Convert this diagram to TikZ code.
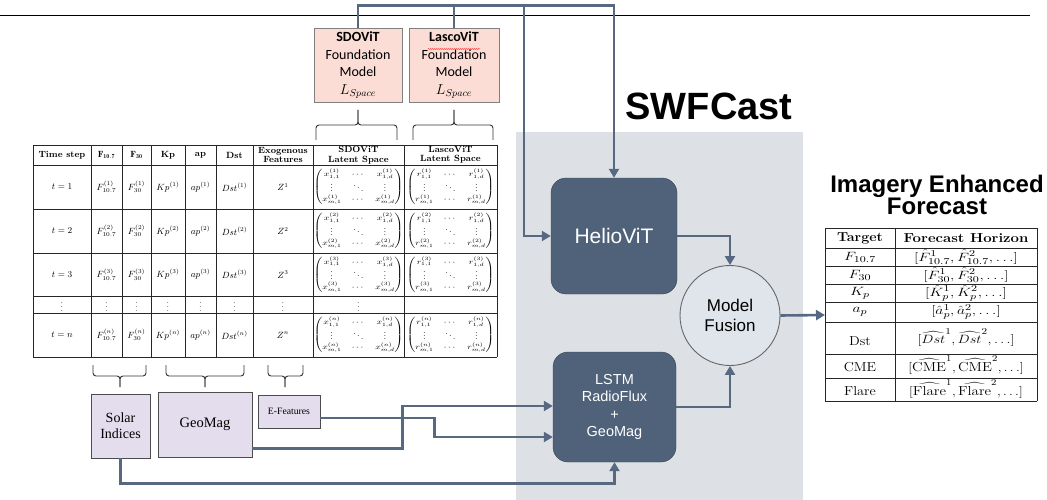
\documentclass[tikz,border=0pt]{standalone}
\usepackage{fontspec}
\usepackage{amsmath}
\newfontfamily\carlito{Carlito}
\newfontfamily\helv{Liberation Sans}
\newfontfamily\timesrm{Liberation Serif}
\usetikzlibrary{positioning, arrows.meta, calc, decorations.pathmorphing}

\definecolor{linkblue}{RGB}{86,105,128}
\definecolor{slate}{RGB}{79,98,121}
\definecolor{panelgray}{RGB}{221,225,230}
\definecolor{fusiongray}{RGB}{224,228,235}
\definecolor{foundpink}{RGB}{251,221,214}
\definecolor{featlav}{RGB}{228,221,237}

\begin{document}
\begin{tikzpicture}[
  x=1pt, y=-1pt,
  link/.style={draw=linkblue, line width=2.6pt},
  arr/.style={link, -{Triangle[length=9pt, width=10pt]}},
  model/.style={draw=slate!70!black, fill=slate, rounded corners=15pt, text=white,
                align=center, inner sep=0pt},
  found/.style={draw=black!50, fill=foundpink, minimum width=88pt, minimum height=74pt,
                align=center, inner sep=0pt, font=\carlito\fontsize{14}{17.5}\selectfont},
  feat/.style={draw=black!70, line width=0.9pt, fill=featlav, align=center, inner sep=0pt},
  tabline/.style={draw=black!85, line width=0.8pt},
  cell/.style={inner sep=0pt, font=\fontsize{9}{10}\selectfont},
  mat/.style={cell, xscale=1.05, yscale=0.82},
  head/.style={inner sep=0pt, align=center, font=\fontsize{9}{9.5}\selectfont\bfseries},
  rcell/.style={inner sep=0pt, font=\fontsize{13}{15}\selectfont},
  brk/.style={draw=black!80, line width=0.9pt, rounded corners=3pt},
]
\useasboundingbox (0,0) rectangle (1047,500);

% panel and rule
\fill[panelgray] (516,132) rectangle (803,500);
\draw[line width=0.9pt] (0,15) -- (1030,15);
\node[anchor=base, inner sep=0pt, font=\helv\bfseries\fontsize{38}{40}\selectfont] (title) at (709,120) {SWFCast};

% foundation models
\node[found] (sdo) at (358,65) {\textbf{SDOViT}\\Foundation\\Model\\$L_{Space}$};
\node[found, minimum width=90pt] (lasco) at (454,65) {\textbf{LascoViT}\\Foundation\\Model\\$L_{Space}$};
\draw[red!85, line width=0.5pt, decorate, decoration={snake, amplitude=0.5pt, segment length=2pt}] (428,49) -- (480,49);

% braces
\foreach \a/\b/\m in {316/397/358, 413/493/454} {
  \draw[brk] (\a,140) -- (\a,125) -- (\m,125) -- (\m,110);
  \draw[brk] (\b,140) -- (\b,125) -- (\m,125) -- (\m,110);
}
\foreach \a/\b/\m in {93/146/120, 166/244/205, 268/303/285} {
  \draw[brk] (\a,365) -- (\a,376) -- (\m,376) -- (\m,387);
  \draw[brk] (\b,365) -- (\b,376) -- (\m,376) -- (\m,387);
}

% input table
\foreach \x in {33,91,122,151,185,216,253,313,404,497}
  \draw[tabline] (\x,145) -- (\x,357);
\foreach \y in {145,165,209,253,296,313,357}
  \draw[tabline] (33,\y) -- (497,\y);

\node[head] (h1) at (62,155) {Time step};
\node[head] (h2) at (106.5,155) {$\mathbf{F_{10.7}}$};
\node[head] (h3) at (136.5,155) {$\mathbf{F_{30}}$};
\node[head] (h4) at (168,155) {Kp};
\node[head] (h5) at (200.5,155) {ap};
\node[head] (h6) at (234.5,155) {Dst};
\node[head] (h7) at (283,155) {Exogenous\\Features};
\node[head] (h8) at (358.5,155) {SDOViT\\Latent Space};
\node[head] (h9) at (450.5,155) {LascoViT\\Latent Space};

\foreach \r/\yy in {1/187, 2/231, 3/274.5, n/335} {
  \node[cell] (ts\r) at (62,\yy) {$t=\r$};
  \node[cell] (fa\r) at (106.5,\yy) {$F^{(\r)}_{10.7}$};
  \node[cell] (fb\r) at (136.5,\yy) {$F^{(\r)}_{30}$};
  \node[cell] (kp\r) at (168,\yy) {$Kp^{(\r)}$};
  \node[cell] (ap\r) at (200.5,\yy) {$ap^{(\r)}$};
  \node[cell] (dst\r) at (234.5,\yy) {$Dst^{(\r)}$};
  \node[cell] (z\r) at (283,\yy) {$Z^{\r}$};
  \node[mat] (sx\r) at (358.5,\yy) {$\begin{pmatrix} x^{(\r)}_{1,1} & \cdots & x^{(\r)}_{1,d}\\ \vdots & \ddots & \vdots\\ x^{(\r)}_{m,1} & \cdots & x^{(\r)}_{m,d}\end{pmatrix}$};
  \node[mat] (lr\r) at (450.5,\yy) {$\begin{pmatrix} r^{(\r)}_{1,1} & \cdots & r^{(\r)}_{1,d}\\ \vdots & \ddots & \vdots\\ r^{(\r)}_{m,1} & \cdots & r^{(\r)}_{m,d}\end{pmatrix}$};
}
\foreach \c [count=\i] in {62,106.5,136.5,168,200.5,234.5,283,358.5}
  \node[cell] (dot\i) at (\c,304.5) {$\vdots$};

% input groups
\node[feat, minimum width=59pt, minimum height=64pt, font=\timesrm\fontsize{14}{16}\selectfont] (solar) at (120.5,426) {Solar\\Indices};
\node[feat, minimum width=94pt, minimum height=65pt, font=\timesrm\fontsize{14.5}{16}\selectfont] (geomag) at (205,424.5) {GeoMag};
\node[feat, minimum width=62pt, minimum height=33pt, font=\timesrm\fontsize{9.7}{11}\selectfont] (efeat) at (289,411.5) {E-Features};

% models
\node[model, minimum width=126pt, minimum height=116pt, font=\helv\fontsize{21}{25}\selectfont] (helio) at (614,236) {HelioViT};
\node[model, minimum width=123pt, minimum height=110pt, font=\helv\fontsize{14.5}{17.5}\selectfont] (lstm) at (614.5,407) {LSTM\\RadioFlux\\+\\GeoMag};
\node[circle, draw=black!60, line width=0.9pt, fill=fusiongray, minimum size=100pt, inner sep=0pt,
      align=center, font=\helv\fontsize{17}{20}\selectfont] (fusion) at (730,315.5) {Model\\Fusion};

% forecast table
\node[inner sep=0pt, align=center, font=\helv\bfseries\fontsize{24}{22}\selectfont] (fcttitle) at (937,195.4) {Imagery Enhanced\\Forecast};
\foreach \x in {825,895,1037}
  \draw[tabline] (\x,228) -- (\x,401);
\foreach \y in {228,248,266,284,302,322,354,378,401}
  \draw[tabline] (825,\y) -- (1037,\y);
\node[rcell, xscale=1.1] (tg0) at (860,238) {\bfseries Target};
\node[rcell, xscale=1.15] (fh0) at (966,238) {\bfseries Forecast Horizon};
\node[rcell, xscale=1.3] (tg1) at (860,257) {$F_{10.7}$};
\node[rcell, xscale=1.3] (fh1) at (966,257) {$[\hat{F}^1_{10.7},\hat{F}^2_{10.7},\ldots]$};
\node[rcell, xscale=1.3] (tg2) at (860,275) {$F_{30}$};
\node[rcell, xscale=1.3] (fh2) at (966,275) {$[\hat{F}^1_{30},\hat{F}^2_{30},\ldots]$};
\node[rcell, xscale=1.3] (tg3) at (860,293) {$K_p$};
\node[rcell, xscale=1.3] (fh3) at (966,293) {$[\hat{K}^1_p,\hat{K}^2_p,\ldots]$};
\node[rcell, xscale=1.3] (tg4) at (860,312) {$a_p$};
\node[rcell, xscale=1.3] (fh4) at (966,312) {$[\hat{a}^1_p,\hat{a}^2_p,\ldots]$};
\node[rcell, xscale=1.1] (tg5) at (860,341) {Dst};
\node[rcell, xscale=1.2] (fh5) at (966,338) {$[\widehat{Dst}^1,\widehat{Dst}^2,\ldots]$};
\node[rcell, xscale=1.1] (tg6) at (860,367) {CME};
\node[rcell, xscale=1.15] (fh6) at (966,365) {$[\widehat{\text{CME}}^1,\widehat{\text{CME}}^2,\ldots]$};
\node[rcell, xscale=1.1] (tg7) at (860,391) {Flare};
\node[rcell, xscale=1.15] (fh7) at (966,389) {$[\widehat{\text{Flare}}^1,\widehat{\text{Flare}}^2,\ldots]$};
\coordinate (fctin) at (825,315);

% connectors
\coordinate (split) at (524,6);
\draw[arr] (sdo.north) -- ++(0,-22) -| (helio.north);
\draw[link] (lasco.north) -- ++(0,-22);
\draw[arr] (split) |- (helio.west);
\draw[arr] (helio.east) -| (fusion.north);
\draw[arr] (lstm.east) -| (fusion.south);
\draw[arr] (fusion.east) -- (fctin);
\draw[arr] ([yshift=9pt]geomag.south east) -- ++(150,0) |- ([yshift=1pt]lstm.west);
\draw[arr] ([yshift=-6.5pt]efeat.east) -- ++(114,0) |- ([yshift=-30pt]lstm.west);
\draw[arr] (solar.south) -- ++(0,25) -| (lstm.south);

\end{tikzpicture}
\end{document}
